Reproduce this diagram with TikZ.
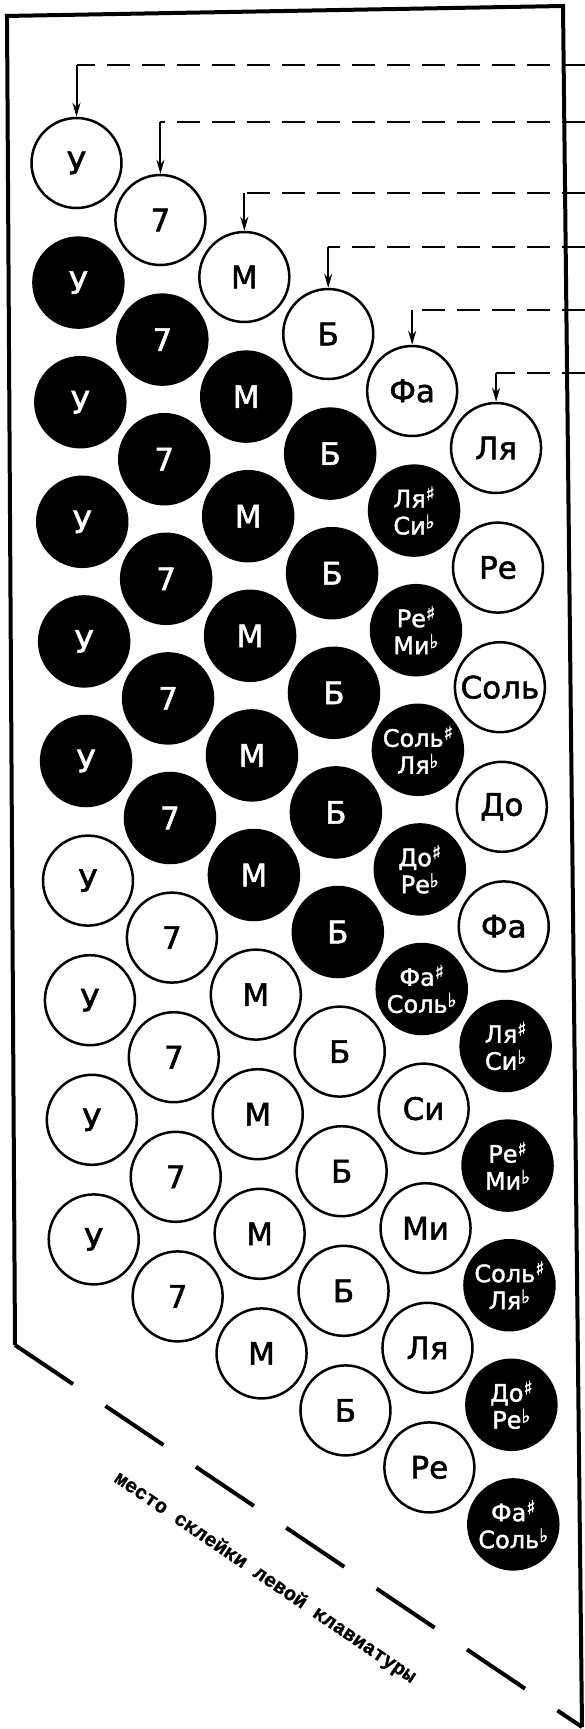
\documentclass[tikz,border=0pt]{standalone}
\usepackage{fontspec}
\setmainfont{DejaVu Sans}
\newfontfamily\keyfont[FakeBold=1.6]{DejaVu Sans}
\newfontfamily\slabfont[FakeBold=1.2]{Liberation Mono Bold}
\usetikzlibrary{arrows.meta}
\newcommand\shp{\raisebox{7pt}{\fontsize{19}{19}\selectfont ♯}}
\newcommand\flt{\raisebox{6pt}{\fontsize{19}{19}\selectfont ♭}}
\begin{document}
\begin{tikzpicture}[x=1pt,y=-1pt,
  key/.style={circle, minimum size=90pt, inner sep=0pt, line width=2.5pt, draw=black},
  key0/.style={key, fill=white},
  key1/.style={key, fill=black},
  lab0/.style={inner sep=0pt, text=black, font=\keyfont\fontsize{31}{33}\selectfont},
  lab1/.style={inner sep=0pt, text=white, font=\keyfont\fontsize{31}{33}\selectfont},
  pairlab/.style={inner sep=0pt, text=white, align=center, font=\keyfont\fontsize{24}{27}\selectfont},
  frameline/.style={line width=4pt, line join=miter},
  cutline/.style={line width=4pt, dash pattern=on 70pt off 39pt},
  guide/.style={line width=2pt, dash pattern=on 23pt off 12pt},
  drop/.style={line width=2pt, -{Stealth[length=14pt,width=8pt]}},
  captext/.style={rotate=-34.2, font=\slabfont\fontsize{20}{20}\selectfont}
]
\useasboundingbox (0,0) rectangle (585,1729);
% frame
\coordinate (tl) at (7,16);
\coordinate (tr) at (563,6);
\coordinate (br) at (582,1727);
\coordinate (bl) at (15,1345);
\draw[frameline] (bl) -- (tl) -- ([xshift=-2pt]tl) -- (tr) -- (br);
\draw[cutline] (bl) -- (br);
% bass rows
\foreach \k/\lab in {0/У,1/7,2/М,3/Б}{
  \foreach \j in {0,...,9}{
    \pgfmathsetmacro\yy{163+57*\k+119.6*\j}
    \pgfmathsetmacro\xx{76.5+83*\k+0.016*(\yy-163)}
    \pgfmathtruncatemacro\bk{and(\j>0,\j<6)}
    \node[key\bk] (c\k-\j) at (\xx,\yy) {};
    \node[lab\bk] (t\k-\j) at (c\k-\j.center) {\lab};
  }
}
% note rows
\foreach \k/\j/\bk/\st/\txt in {
  4/0/0/lab0/Фа, 4/1/1/pairlab/{Ля\shp\\Си\flt}, 4/2/1/pairlab/{Ре\shp\\Ми\flt},
  4/3/1/pairlab/{Соль\shp\\Ля\flt}, 4/4/1/pairlab/{До\shp\\Ре\flt}, 4/5/1/pairlab/{Фа\shp\\Соль\flt},
  4/6/0/lab0/Си, 4/7/0/lab0/Ми, 4/8/0/lab0/Ля, 4/9/0/lab0/Ре,
  5/0/0/lab0/Ля, 5/1/0/lab0/Ре, 5/2/0/lab0/Соль, 5/3/0/lab0/До, 5/4/0/lab0/Фа,
  5/5/1/pairlab/{Ля\shp\\Си\flt}, 5/6/1/pairlab/{Ре\shp\\Ми\flt}, 5/7/1/pairlab/{Соль\shp\\Ля\flt},
  5/8/1/pairlab/{До\shp\\Ре\flt}, 5/9/1/pairlab/{Фа\shp\\Соль\flt}}{
    \pgfmathsetmacro\yy{163+57*\k+119.6*\j}
    \pgfmathsetmacro\xx{76.5+83*\k+0.016*(\yy-163)}
    \node[key\bk] (c\k-\j) at (\xx,\yy) {};
    \node[\st] (t\k-\j) at (c\k-\j.center) {\txt};
}
% guide lines with arrows
\foreach \k/\gy in {0/65,1/122,2/193,3/247,4/310,5/373}{
  \coordinate (h\k) at (585,\gy);
  \coordinate (g\k) at (c\k-0.north |- h\k);
  \draw[guide] (h\k) -- (g\k);
  \draw[drop] (g\k) -- (c\k-0.north);
}
% caption
\node[captext] (cap) at (265,1578) {место склейки левой клавиатуры};
\end{tikzpicture}
\end{document}
